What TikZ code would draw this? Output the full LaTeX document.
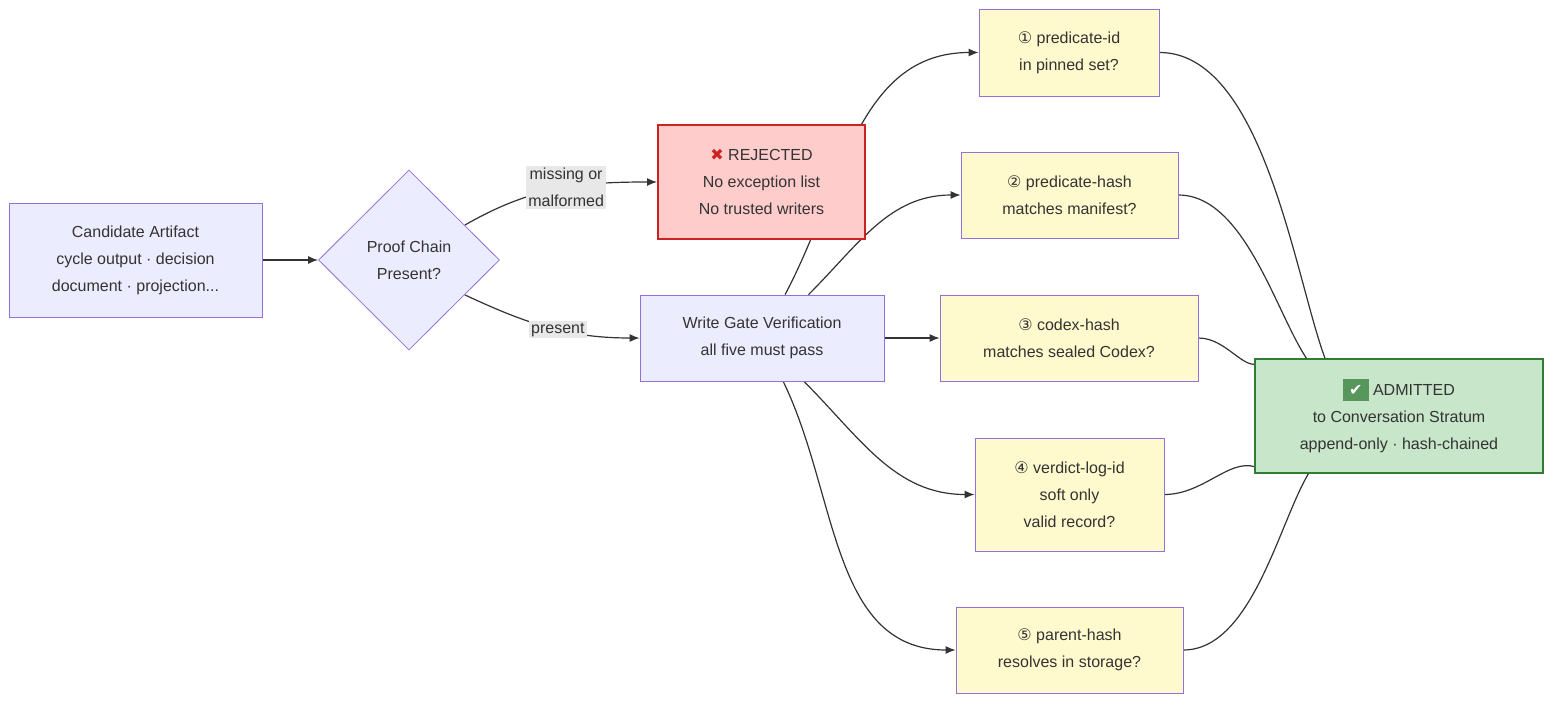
\documentclass[tikz,border=0pt]{standalone}
\usepackage{fontspec}
\setmainfont{Liberation Sans}
\newfontfamily\symfont{DejaVu Sans}
\usetikzlibrary{arrows.meta,shapes.geometric,backgrounds}
\definecolor{boxfill}{HTML}{ECECFF}
\definecolor{boxline}{HTML}{9370DB}
\definecolor{askfill}{HTML}{FFFACD}
\definecolor{rejfill}{HTML}{FFCCCC}
\definecolor{rejline}{HTML}{CC2222}
\definecolor{admfill}{HTML}{C8E6C9}
\definecolor{admline}{HTML}{2E7D32}
\definecolor{edge}{HTML}{333333}
\definecolor{lblfill}{HTML}{E8E8E8}
\tikzset{
  stage/.style={draw=boxline, fill=boxfill, align=center, inner sep=0pt},
  check/.style={draw=boxline, fill=askfill, align=center, inner sep=0pt},
  flow/.style={-{Latex[length=5pt,width=4pt]}, edge, semithick},
  lbl/.style={fill=lblfill, align=center, inner sep=1pt},
}
\newcommand{\sym}[1]{{\symfont #1}}
\begin{document}
\begin{tikzpicture}[x=0.5pt, y=-0.5pt, font=\fontsize{8}{13.5}\selectfont, text=edge]
      \useasboundingbox (0,0) rectangle (1568,712);

      \node [stage, minimum width=126.5pt, minimum height=57pt] (cand) at (135.5,260)
            {Candidate Artifact\\cycle output · decision\\document · projection...};
      \node [stage, diamond, minimum width=90.5pt, minimum height=90pt] (proof) at (409,260)
            {Proof Chain\\Present?};
      \node [stage, draw=rejline, fill=rejfill, line width=1pt, minimum width=103.5pt, minimum height=57pt] (rej) at (761.5,182)
            {\sym{\textcolor{rejline}{✖}} REJECTED\\No exception list\\No trusted writers};
      \node [stage, minimum width=122pt, minimum height=43pt] (gate) at (762,338)
            {Write Gate Verification\\all five must pass};

      \node [check, minimum width=90pt, minimum height=43.5pt] (c1) at (1069,52.5)
            {\sym{①} predicate-id\\in pinned set?};
      \node [check, minimum width=108.5pt, minimum height=43pt] (c2) at (1069.5,195)
            {\sym{②} predicate-hash\\matches manifest?};
      \node [check, minimum width=129pt, minimum height=43pt] (c3) at (1069,338)
            {\sym{③} codex-hash\\matches sealed Codex?};
      \node [check, minimum width=94.5pt, minimum height=56.5pt] (c4) at (1069.5,494.5)
            {\sym{④} verdict-log-id\\soft only\\valid record?};
      \node [check, minimum width=113.5pt, minimum height=43pt] (c5) at (1069.5,650)
            {\sym{⑤} parent-hash\\resolves in storage?};

      \node [stage, draw=admline, fill=admfill, line width=1pt, minimum width=144pt, minimum height=57pt] (adm) at (1399,416)
            {\colorbox{admline!80}{\sym{\textcolor{white}{✔}}} ADMITTED\\to Conversation Stratum\\append-only · hash-chained};

      \begin{scope}[on background layer]
        \draw [flow] (cand) -- (proof);
        \draw [flow] (proof.32) to[out=30,in=180] node [lbl, pos=0.55] {missing or\\malformed} (rej.west);
        \draw [flow] (proof.-32) to[out=-25,in=180] node [lbl, pos=0.55] {present} (gate.west);

        \draw [flow] (gate.62) to[out=62,in=180] (c1.west);
        \draw [flow] (gate.43) to[out=45,in=180] (c2.west);
        \draw [flow] (gate.east) -- (c3.west);
        \draw [flow] (gate.-46) to[out=-45,in=180] (c4.west);
        \draw [flow] (gate.-64) to[out=-64,in=180] (c5.west);

        \draw [flow] (c1.east) to[out=0,in=-115] (adm.117);
        \draw [flow] (c2.east) to[out=0,in=-128] (adm.128);
        \draw [flow] (c3.east) to[out=0,in=-150] (adm.156);
        \draw [flow] (c4.east) to[out=0,in=150] (adm.-156);
        \draw [flow] (c5.east) to[out=0,in=128] (adm.-128);
      \end{scope}
    \end{tikzpicture}
\end{document}
